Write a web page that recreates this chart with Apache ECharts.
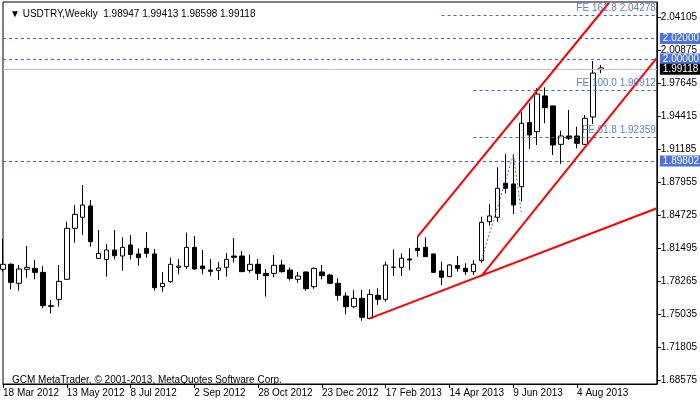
<!DOCTYPE html>
<html><head><meta charset="utf-8">
<script src="https://cdn.jsdelivr.net/npm/echarts@6/dist/echarts.min.js"></script>
<style>html,body{margin:0;padding:0;background:#fff}#c{width:700px;height:402px}</style>
</head><body><div id="c"></div>
<script>
// [open, close, low, high] weekly USDTRY
const candles = [
[1.7941,1.7990,1.7918,1.8238],[1.7990,1.7813,1.7745,1.8000],[1.7804,1.7944,1.7732,1.7983],[1.7941,1.7960,1.7859,1.8169],
[1.7950,1.7911,1.7843,1.8032],[1.7911,1.7585,1.7559,1.7973],[1.7578,1.7585,1.7510,1.7640],[1.7647,1.7823,1.7575,1.7983],
[1.7843,1.8342,1.7836,1.8407],[1.8342,1.8479,1.8202,1.8570],[1.8450,1.8570,1.8277,1.8766],[1.8561,1.8211,1.8163,1.8619],
[1.8048,1.8097,1.8045,1.8326],[1.8038,1.8130,1.7869,1.8189],[1.8130,1.8074,1.8038,1.8326],[1.8071,1.8156,1.7928,1.8254],
[1.8179,1.8087,1.8038,1.8277],[1.8091,1.8055,1.7977,1.8146],[1.8146,1.8097,1.8055,1.8306],[1.8091,1.7761,1.7732,1.8140],
[1.7771,1.7804,1.7722,1.7915],[1.7820,1.7990,1.7810,1.8055],[1.7960,1.7973,1.7892,1.8042],[1.7967,1.8156,1.7944,1.8300],
[1.8156,1.7944,1.7937,1.8267],[1.7973,1.7947,1.7892,1.8130],[1.7934,1.7921,1.7879,1.8042],[1.7931,1.7954,1.7836,1.8012],
[1.7960,1.8038,1.7869,1.8100],[1.8071,1.8058,1.8006,1.8247],[1.8071,1.7918,1.7915,1.8120],[1.7931,1.7990,1.7908,1.8084],
[1.7990,1.7901,1.7836,1.8042],[1.7901,1.7879,1.7673,1.7944],[1.7901,1.7980,1.7862,1.8081],[1.7983,1.7918,1.7908,1.8032],
[1.7934,1.7852,1.7830,1.7960],[1.7843,1.7875,1.7810,1.7915],[1.7915,1.7751,1.7732,1.7918],[1.7771,1.7950,1.7751,1.7960],
[1.7915,1.7879,1.7843,1.7983],[1.7885,1.7804,1.7800,1.7895],[1.7804,1.7686,1.7634,1.7852],[1.7679,1.7575,1.7500,1.7715],
[1.7575,1.7657,1.7559,1.7739],[1.7657,1.7471,1.7438,1.7739],[1.7461,1.7696,1.7451,1.7745],[1.7686,1.7647,1.7592,1.7755],
[1.7647,1.7983,1.7624,1.8016],[1.7962,1.7960,1.7876,1.8137],[1.7960,1.8049,1.7876,1.8097],[1.8042,1.8032,1.7934,1.8146],
[1.8146,1.8124,1.8065,1.8261],[1.8156,1.8065,1.8062,1.8254],[1.8091,1.7911,1.7908,1.8097],[1.7925,1.7863,1.7787,1.8016],
[1.7869,1.7983,1.7866,1.7993],[1.7977,1.7951,1.7918,1.8071],[1.7951,1.7918,1.7885,1.8000],[1.7918,1.7990,1.7885,1.8032],
[1.8026,1.8401,1.8006,1.8456],[1.8407,1.8463,1.8368,1.8577],[1.8450,1.8734,1.8407,1.8939],[1.8783,1.8734,1.8685,1.9070],
[1.8776,1.8571,1.8482,1.9067],[1.8750,1.9370,1.8603,1.9484],[1.9377,1.9256,1.9119,1.9566],[1.9288,1.9657,1.9158,1.9713],
[1.9638,1.9523,1.9370,1.9722],[1.9540,1.9158,1.9060,1.9543],[1.9164,1.9246,1.8972,1.9298],[1.9246,1.9223,1.9207,1.9501],
[1.9246,1.9174,1.9125,1.9337],[1.9164,1.9419,1.9158,1.9452],[1.9432,1.9862,1.9363,1.9980],[1.98947,1.99118,1.98598,1.99413]
];
const startDate = '2012-03-18';
const futureBars = 7;
const yTicks = [1.68575,1.71805,1.75035,1.78265,1.81495,1.84725,1.87955,1.91185,1.94415,1.97645,2.00875,2.04105];
const levels = [2.02000, 2.00000, 1.89802];
const fibLevels = [[55,'FE 161.8',2.04278],[59,'FE 100.0',1.96912],[59,'FE 61.8',1.92359]];
const bid = 1.99118;
// trend lines [[idx,price],[idx,price]]
const trendLines = [[[52,1.8261],[76,2.0550]],[[60,1.7875],[82,2.0010]],[[46,1.7460],[82,1.8539]]];
const fiboPath = [[60,1.8032],[64,1.9060],[65,1.8502]];

const months=['Jan','Feb','Mar','Apr','May','Jun','Jul','Aug','Sep','Oct','Nov','Dec'];
const cats=[];
const d0=new Date(startDate+'T12:00:00Z');
for(let i=0;i<candles.length;i++){const d=new Date(d0.getTime()+i*7*864e5);cats.push(d.getUTCDate()+' '+months[d.getUTCMonth()]+' '+d.getUTCFullYear());}
for(let i=0;i<futureBars;i++)cats.push('');

const F='Liberation Sans';
const blue='#3d62d8';
const ml=[];
levels.forEach(v=>ml.push({yAxis:v,lineStyle:{color:blue,type:[3,3],width:1},label:{show:true,position:'end',distance:3,formatter:v.toFixed(5),color:'#fff',backgroundColor:'#4a72e0',padding:[1,3,0,3],fontFamily:F,fontSize:10}}));
ml.push({yAxis:bid,lineStyle:{color:'#c0c0c0',type:'solid',width:1},label:{show:true,position:'end',distance:3,formatter:bid.toFixed(5),color:'#fff',backgroundColor:'#000',padding:[1,3,0,3],fontFamily:F,fontSize:10}});
fibLevels.forEach(f=>ml.push([{coord:[f[0],f[2]],lineStyle:{color:blue,type:[3,3],width:1},label:{show:true,position:'insideEndTop',distance:[1,2],formatter:f[1]+' '+f[2].toFixed(5),color:'#5a7ee0',fontFamily:F,fontSize:10}},{coord:[cats.length-1,f[2]]}]));
trendLines.forEach(t=>ml.push([{coord:t[0],lineStyle:{color:'#ff0000',type:'solid',width:2},label:{show:false}},{coord:t[1]}]));
for(let i=0;i<fiboPath.length-1;i++)ml.push([{coord:fiboPath[i],lineStyle:{color:blue,type:[2,2],width:1},label:{show:false}},{coord:fiboPath[i+1]}]);

const chart=echarts.init(document.getElementById('c'));
chart.setOption({
  animation:false,
  textStyle:{fontFamily:F},
  title:[{text:'▼ USDTRY,Weekly  1.98947 1.99413 1.98598 1.99118',left:5,top:4,textStyle:{fontSize:10,fontWeight:'normal',color:'#000',fontFamily:F}},
         {text:'GCM MetaTrader, © 2001-2013, MetaQuotes Software Corp.',left:7,top:370,textStyle:{fontSize:10,fontWeight:'normal',color:'#000',fontFamily:F}}],
  grid:{left:3,right:43,top:2,bottom:18,show:true,borderColor:'#000',borderWidth:1},
  xAxis:{type:'category',data:cats,boundaryGap:false,
    axisLine:{lineStyle:{color:'#000'}},
    axisTick:{interval:7,length:4,lineStyle:{color:'#000'}},
    axisLabel:{interval:7,align:'left',margin:4,color:'#000',fontSize:10,fontFamily:F,showMaxLabel:false},
    splitLine:{show:false}},
  yAxis:{type:'value',position:'right',min:1.68183,max:2.05573,scale:true,
    axisLine:{show:true,lineStyle:{color:'#000'}},
    axisTick:{show:true,length:4,customValues:yTicks,lineStyle:{color:'#000'}},
    axisLabel:{customValues:yTicks,formatter:v=>v.toFixed(5),color:'#000',fontSize:10,fontFamily:F,margin:4},
    splitLine:{show:false}},
  series:[{type:'candlestick',data:candles,barWidth:5,
    itemStyle:{color:'#fff',color0:'#000',borderColor:'#000',borderColor0:'#000',borderWidth:1},
    markLine:{symbol:'none',silent:true,animation:false,data:ml}}]
});
</script></body></html>
